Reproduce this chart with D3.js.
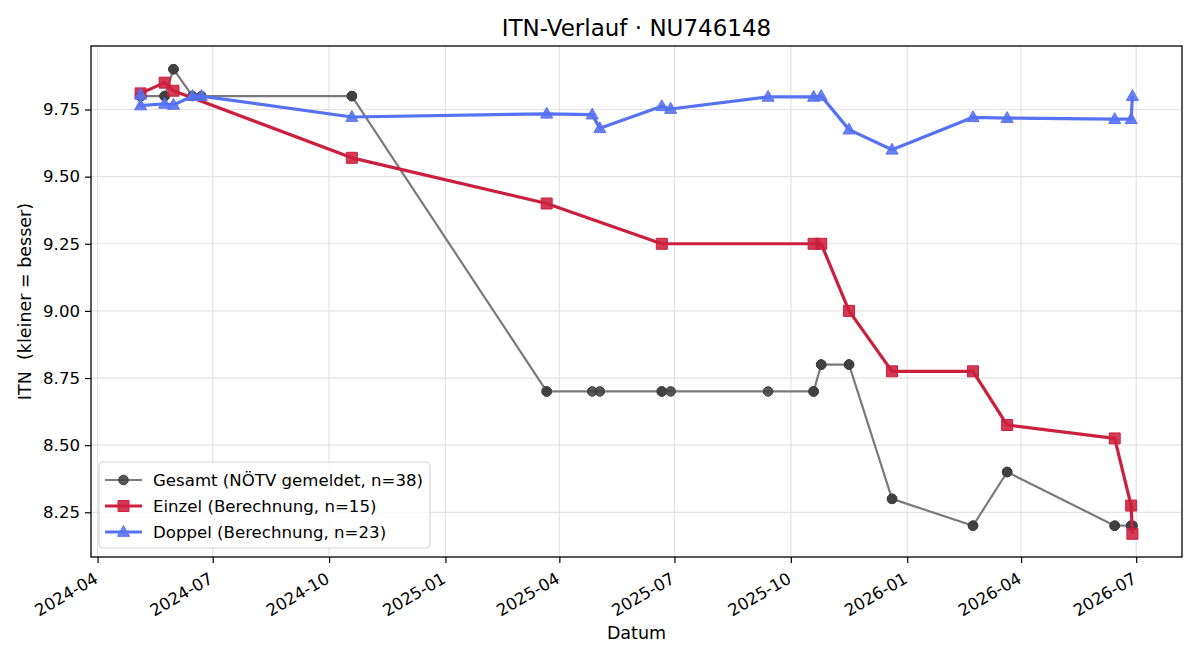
<!DOCTYPE html>
<html>
<head>
<meta charset="utf-8">
<script src="https://cdn.jsdelivr.net/npm/d3@7"></script>
<style>
  body { margin: 0; background: #fff; }
  svg, svg text { font-family: "DejaVu Sans", sans-serif; }
</style>
</head>
<body>
<svg width="1200" height="660"></svg>
<script>
// Gesamt (NÖTV gemeldet)
const gesamtDates = [
  "2024-05-05", "2024-05-05", "2024-05-05", "2024-05-24", "2024-05-24", "2024-05-31", "2024-05-31",
  "2024-06-15", "2024-06-22", "2024-10-19", "2024-10-19", "2025-03-22", "2025-03-22",
  "2025-04-27", "2025-05-03", "2025-06-21", "2025-06-21", "2025-06-28", "2025-09-13",
  "2025-10-19", "2025-10-19", "2025-10-25", "2025-10-25", "2025-11-16", "2025-11-16",
  "2025-12-20", "2025-12-20", "2026-02-22", "2026-02-22", "2026-03-21", "2026-03-21",
  "2026-06-14", "2026-06-14", "2026-06-27", "2026-06-27", "2026-06-28", "2026-06-28"
];
const gesamtValues = [
  9.80, 9.80, 9.80, 9.80, 9.80, 9.90, 9.90,
  9.80, 9.80, 9.80, 9.80, 8.70, 8.70,
  8.70, 8.70, 8.70, 8.70, 8.70, 8.70,
  8.70, 8.70, 8.80, 8.80, 8.80, 8.80,
  8.30, 8.30, 8.20, 8.20, 8.40, 8.40,
  8.20, 8.20, 8.20, 8.20, 8.20, 8.20
];

// Einzel (Berechnung)
const einzelDates = [
  "2024-05-05", "2024-05-24", "2024-05-31", "2024-10-19", "2025-03-22", "2025-06-21",
  "2025-10-19", "2025-10-25", "2025-11-16", "2025-12-20", "2026-02-22", "2026-03-21",
  "2026-06-14", "2026-06-27", "2026-06-28"
];
const einzelValues = [
  9.81, 9.85, 9.82, 9.57, 9.40, 9.25,
  9.25, 9.25, 9.00, 8.775, 8.775, 8.575,
  8.525, 8.275, 8.17
];

// Doppel (Berechnung)
const doppelDates = [
  "2024-05-05", "2024-05-05", "2024-05-24", "2024-05-31", "2024-06-15", "2024-06-22",
  "2024-10-19", "2025-03-22", "2025-04-27", "2025-05-03", "2025-06-21", "2025-06-28",
  "2025-09-13", "2025-10-19", "2025-10-25", "2025-11-16", "2025-12-20", "2026-02-22",
  "2026-03-21", "2026-06-14", "2026-06-27", "2026-06-28"
];
const doppelValues = [
  9.805, 9.765, 9.771, 9.767, 9.80, 9.80,
  9.722, 9.734, 9.731, 9.68, 9.762, 9.752,
  9.797, 9.797, 9.80, 9.675, 9.60, 9.721,
  9.718, 9.714, 9.714, 9.80
];

const yTickValues = [8.25, 8.50, 8.75, 9.00, 9.25, 9.50, 9.75];

const parseDate = d3.timeParse("%Y-%m-%d");

function makeRows(dates, values) {
  return dates.map((d, i) => ({ date: parseDate(d), value: values[i] }));
}

const series = [
  { name: "Gesamt (NÖTV gemeldet, n=38)", rows: makeRows(gesamtDates, gesamtValues),
    line: "#7a7a7a", lineWidth: 2.2, marker: "circle", fill: "#404040", size: 4.8 },
  { name: "Einzel (Berechnung, n=15)", rows: makeRows(einzelDates, einzelValues),
    line: "#cc1f3d", lineWidth: 3.2, marker: "square", fill: "#cc1f3d", size: 11 },
  { name: "Doppel (Berechnung, n=23)", rows: makeRows(doppelDates, doppelValues),
    line: "#5572f2", lineWidth: 3.2, marker: "triangle", fill: "#5572f2", size: 12 }
];

const attrArea = { left: 91, top: 46, right: 1182, bottom: 557 };
const fontFamily = "DejaVu Sans, sans-serif";

const svg = d3.select("svg");

const allRows = series.flatMap(s => s.rows);
const tExt = d3.extent(allRows, d => d.date.getTime());
const tPad = (tExt[1] - tExt[0]) * 0.05;
const vExt = d3.extent(allRows, d => d.value);
const vPad = (vExt[1] - vExt[0]) * 0.05;

const scaleX = d3.scaleTime()
  .domain([new Date(tExt[0] - tPad), new Date(tExt[1] + tPad)])
  .range([attrArea.left, attrArea.right]);

const scaleY = d3.scaleLinear()
  .domain([vExt[0] - vPad, vExt[1] + vPad])
  .range([attrArea.bottom, attrArea.top]);

const xTicks = scaleX.ticks(d3.timeMonth.every(3));

// Gitter
const grid = svg.append("g").attr("stroke", "#e3e3e3").attr("stroke-width", 1.2);
grid.selectAll(".gx").data(xTicks).enter().append("line")
  .attr("x1", d => scaleX(d)).attr("x2", d => scaleX(d))
  .attr("y1", attrArea.top).attr("y2", attrArea.bottom);
grid.selectAll(".gy").data(yTickValues).enter().append("line")
  .attr("x1", attrArea.left).attr("x2", attrArea.right)
  .attr("y1", d => scaleY(d)).attr("y2", d => scaleY(d));

// Achsen
const axisX = d3.axisBottom(scaleX)
  .tickValues(xTicks)
  .tickFormat(d3.timeFormat("%Y-%m"))
  .tickSize(6).tickPadding(4);

const gx = svg.append("g")
  .attr("transform", `translate(0, ${attrArea.bottom})`)
  .call(axisX)
  .attr("font-family", fontFamily);
gx.select(".domain").remove();
gx.selectAll(".tick line").attr("stroke", "#000").attr("stroke-width", 1.2);
gx.selectAll("text")
  .style("font-size", "16.6px")
  .attr("fill", "#000")
  .attr("text-anchor", "end")
  .attr("y", 0).attr("dy", 0)
  .attr("transform", "translate(1, 25) rotate(-30)");

const axisY = d3.axisLeft(scaleY)
  .tickValues(yTickValues)
  .tickFormat(d3.format(".2f"))
  .tickSize(6).tickPadding(5);

const gy = svg.append("g")
  .attr("transform", `translate(${attrArea.left}, 0)`)
  .call(axisY)
  .attr("font-family", fontFamily);
gy.select(".domain").remove();
gy.selectAll(".tick line").attr("stroke", "#000").attr("stroke-width", 1.2);
gy.selectAll("text").style("font-size", "16.6px").attr("fill", "#000");

// Linien und Marker
function markerPath(s) {
  if (s.marker === "circle") return d3.symbol(d3.symbolCircle, Math.PI * s.size * s.size)();
  if (s.marker === "square") return d3.symbol(d3.symbolSquare, s.size * s.size)();
  const h = s.size * 0.9, w = s.size;
  return `M0,${-h * 0.6}L${w / 2},${h * 0.4}L${-w / 2},${h * 0.4}Z`;
}

series.forEach(s => {
  const line = d3.line()
    .x(d => scaleX(d.date))
    .y(d => scaleY(d.value));

  svg.append("path")
    .datum(s.rows)
    .attr("fill", "none")
    .attr("stroke", s.line)
    .attr("stroke-width", s.lineWidth)
    .attr("stroke-linejoin", "round")
    .attr("d", line);

  svg.append("g").selectAll("path")
    .data(s.rows)
    .enter()
    .append("path")
    .attr("d", markerPath(s))
    .attr("transform", d => `translate(${scaleX(d.date)}, ${scaleY(d.value)})`)
    .attr("fill", s.fill)
    .attr("fill-opacity", 0.88)
    .attr("stroke", s.fill)
    .attr("stroke-width", 1);
});

// Rahmen
svg.append("rect")
  .attr("x", attrArea.left).attr("y", attrArea.top)
  .attr("width", attrArea.right - attrArea.left)
  .attr("height", attrArea.bottom - attrArea.top)
  .attr("fill", "none").attr("stroke", "#000").attr("stroke-width", 1.3);

// Titel und Beschriftungen
svg.append("text")
  .attr("x", (attrArea.left + attrArea.right) / 2).attr("y", 36)
  .attr("text-anchor", "middle")
  .style("font-size", "23px")
  .text("ITN-Verlauf · NU746148");

svg.append("text")
  .attr("x", (attrArea.left + attrArea.right) / 2).attr("y", 639)
  .attr("text-anchor", "middle")
  .style("font-size", "17.5px")
  .text("Datum");

svg.append("text")
  .attr("transform", `translate(31, ${(attrArea.top + attrArea.bottom) / 2}) rotate(-90)`)
  .attr("text-anchor", "middle")
  .style("font-size", "17.5px")
  .style("white-space", "pre")
  .text("ITN  (kleiner = besser)");

// Legende
const legend = svg.append("g").attr("transform", "translate(99, 462)");
legend.append("rect")
  .attr("width", 331).attr("height", 86).attr("rx", 4)
  .attr("fill", "#fff").attr("fill-opacity", 0.85)
  .attr("stroke", "#d4d4d4").attr("stroke-width", 1.2);

series.forEach((s, i) => {
  const y = 18 + i * 26;
  const item = legend.append("g").attr("transform", `translate(0, ${y})`);
  item.append("line")
    .attr("x1", 6).attr("x2", 43).attr("y1", 0).attr("y2", 0)
    .attr("stroke", s.line).attr("stroke-width", s.lineWidth);
  item.append("path")
    .attr("d", markerPath(s))
    .attr("transform", "translate(24.5, 0)")
    .attr("fill", s.fill).attr("fill-opacity", 0.88)
    .attr("stroke", s.fill).attr("stroke-width", 1);
  item.append("text")
    .attr("x", 54).attr("y", 6)
    .style("font-size", "16.6px")
    .text(s.name);
});
</script>
</body>
</html>
